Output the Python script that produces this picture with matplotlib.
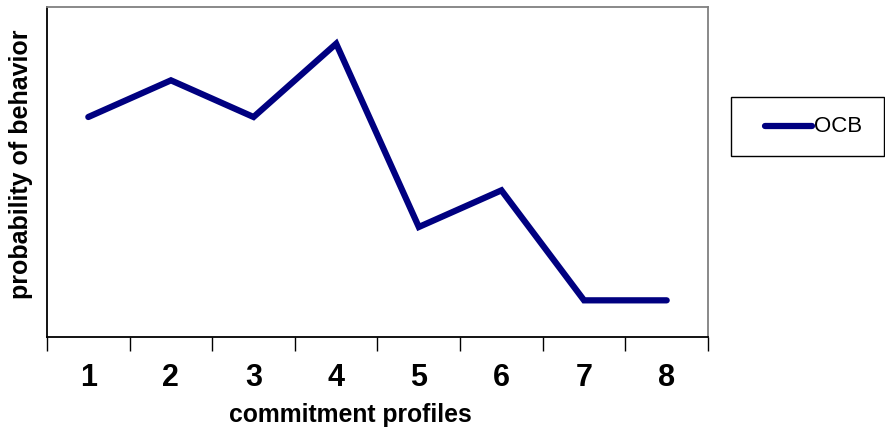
import matplotlib
matplotlib.use("Agg")
import matplotlib.pyplot as plt
from matplotlib.lines import Line2D
from matplotlib.patches import Rectangle

categories = ["1", "2", "3", "4", "5", "6", "7", "8"]
ocb = [6, 7, 6, 8, 3, 4, 1, 1]
series_name = "OCB"

plt.rcParams['font.family'] = ['Liberation Sans', 'DejaVu Sans']

W, H = 885, 433
fig = plt.figure(figsize=(W/100, H/100), dpi=100)
ax = fig.add_axes([47/W, 1-337/H, (708-47)/W, (337-7)/H])

x = list(range(1, len(categories)+1))
ax.plot(x, ocb, color="#000080", lw=4.5, solid_capstyle="round", solid_joinstyle="miter")
ax.set_xlim(0.5, len(categories)+0.5)
ax.set_ylim(0, 9)
ax.set_yticks([])

ax.set_xticks(x)
ax.set_xticklabels(categories, fontsize=22, fontweight="bold")
ax.set_xticks([i+0.5 for i in range(len(categories)+1)], minor=True)
ax.tick_params(axis="x", which="major", length=0, pad=19)
ax.tick_params(axis="x", which="minor", length=10, width=1, direction="out", color="black")

for s in ["top", "right"]:
    ax.spines[s].set_color("#808080")
    ax.spines[s].set_linewidth(1.3)
for s in ["left", "bottom"]:
    ax.spines[s].set_color("black")
    ax.spines[s].set_linewidth(1.3)

fig.text(350/W, 1-415/H, "commitment profiles", fontsize=17.8, fontweight="bold",
         ha="center", va="center")
fig.text(21/W, 1-164/H, "probability of behavior", rotation=90, fontsize=18,
         fontweight="bold", ha="center", va="center")

# legend box
fig.patches.append(Rectangle((731/W, 1-156/H), (884-731)/W, (156-97)/H,
                             transform=fig.transFigure, fill=False,
                             edgecolor="black", lw=1.0))
fig.lines.append(Line2D([765/W, 812/W], [1-126/H, 1-126/H], transform=fig.transFigure,
                        color="#000080", lw=4.5, solid_capstyle="round"))
fig.text(814/W, 1-126/H, series_name, fontsize=16, ha="left", va="center")

fig.savefig("out.png", dpi=100)
